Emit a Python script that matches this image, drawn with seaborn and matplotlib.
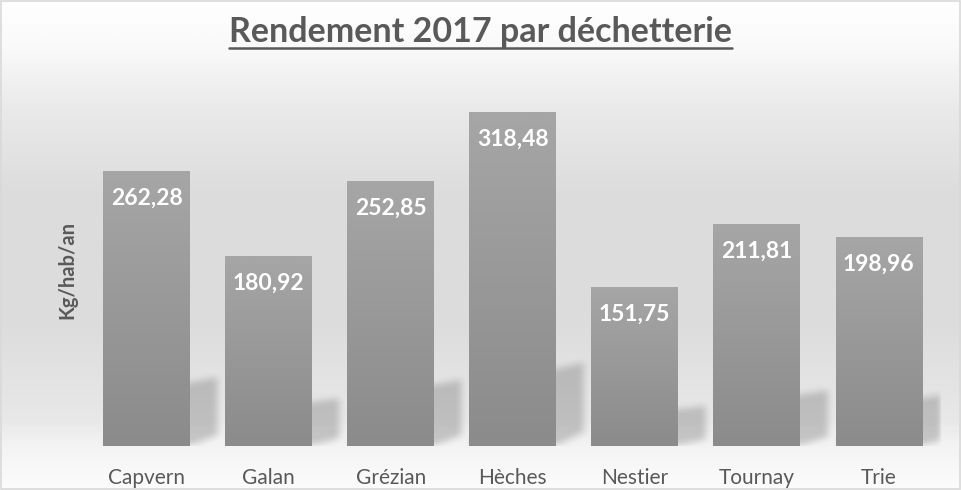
"""Rendement 2017 par déchetterie - bar chart with gradient bars."""

import numpy as np
import pandas as pd
import matplotlib
matplotlib.use("Agg")
import matplotlib.pyplot as plt
from matplotlib.colors import LinearSegmentedColormap
from matplotlib.patches import Rectangle
from matplotlib.path import Path
from matplotlib.lines import Line2D
import seaborn as sns

# data
sites = ["Capvern", "Galan", "Grézian", "Hèches", "Nestier", "Tournay", "Trie"]
rendement = [262.28, 180.92, 252.85, 318.48, 151.75, 211.81, 198.96]
title = "Rendement 2017 par déchetterie"
ylabel = "Kg/hab/an"

TEXT = "#595959"
YMAX = 350

sns.set_theme(style="white")
plt.rcParams["font.family"] = ["Lato", "DejaVu Sans"]

df = pd.DataFrame({"site": sites, "val": rendement})

fig = plt.figure(figsize=(9.61, 4.9), dpi=100)

# background: white top -> grey middle -> light floor at the bottom
bg_cmap = LinearSegmentedColormap.from_list(
    "bg",
    [(0.0, "#ffffff"), (0.1, "#f9f9f9"), (0.22, "#eaeaea"), (0.4, "#dcdcdc"),
     (0.67, "#dddddd"), (0.86, "#e8e8e8"), (0.91, "#f3f3f3"), (1.0, "#fcfcfc")],
)
bg = fig.add_axes([0, 0, 1, 1], zorder=0)
bg.imshow(np.linspace(0, 1, 490).reshape(-1, 1), cmap=bg_cmap, aspect="auto",
          extent=[0, 1, 0, 1], vmin=0, vmax=1)
bg.set_axis_off()
fig.add_artist(Rectangle((0.0015, 0.002), 0.997, 0.996, transform=fig.transFigure,
                         fill=False, edgecolor="#d9d9d9", lw=1.2))

ax = fig.add_axes([0.089, 0.0898, 0.889, 0.749], zorder=1)
ax.patch.set_alpha(0)

sns.barplot(data=df, x="site", y="val", color="#999999", saturation=1,
            width=0.71, linewidth=0, edgecolor="none", ax=ax, zorder=3)

# soft shadows cast behind the bars (mask -> box blur -> overlay)
hw = 0.355
nx, ny = 854, 140
ytop = ny / 1.049
gx = np.linspace(-0.5, len(sites) - 0.5, nx)
gy = np.linspace(0, ytop, ny)
GX, GY = np.meshgrid(gx, gy)
pts = np.column_stack([GX.ravel(), GY.ravel()])
mask = np.zeros(GX.shape)
for i, v in enumerate(rendement):
    dx = 0.22
    shape = Path([(i - hw, 0), (i + hw, 0), (i + hw + dx, 0.04 * v),
                  (i + hw + dx, 0.25 * v), (i - hw + dx, 0.19 * v)])
    mask = np.maximum(mask, shape.contains_points(pts).reshape(GX.shape))


def box_blur(a, k):
    ker = np.ones(k) / k
    a = np.apply_along_axis(lambda r: np.convolve(r, ker, mode="same"), 1, a)
    return np.apply_along_axis(lambda c: np.convolve(c, ker, mode="same"), 0, a)


mask = box_blur(box_blur(mask, 9), 7)
shadow = np.zeros((ny, nx, 4))
shadow[..., 3] = mask * 0.18
ax.imshow(shadow, origin="lower", aspect="auto", zorder=2,
          extent=[gx[0], gx[-1], 0, ytop], interpolation="bilinear")

# vertical gradient inside each bar
bar_cmap = LinearSegmentedColormap.from_list("bar", ["#8b8b8b", "#a6a6a6"])
grad = np.linspace(1, 0, 128).reshape(-1, 1)
for p in list(ax.patches):
    if not isinstance(p, Rectangle):
        continue
    x0, w, h = p.get_x(), p.get_width(), p.get_height()
    im = ax.imshow(grad, cmap=bar_cmap, aspect="auto", extent=[x0, x0 + w, 0, h],
                   zorder=4, vmin=0, vmax=1)
    im.set_clip_path(p)

for i, v in enumerate(rendement):
    ax.text(i, v - 26, f"{v:.2f}".replace(".", ","), ha="center", va="center",
            color="white", fontsize=16.5, fontweight="bold", zorder=5)

ax.set_xlim(-0.5, len(sites) - 0.5)
ax.set_ylim(0, YMAX)
ax.set_yticks([])
ax.set_xlabel("")
ax.set_ylabel("")
ax.tick_params(axis="x", length=0, pad=16, labelsize=15, labelcolor=TEXT)
sns.despine(ax=ax, left=True, bottom=True)

fig.text(0.07, 0.449, ylabel, rotation=90, ha="center", va="center",
         fontsize=14.5, fontweight="bold", color=TEXT)

t = fig.text(0.5, 1 - 32 / 490, title, ha="center", va="center",
             fontsize=24.5, fontweight="bold", color=TEXT)
fig.canvas.draw()
bb = t.get_window_extent().transformed(fig.transFigure.inverted())
fig.add_artist(Line2D([bb.x0, bb.x1], [1 - 48 / 490] * 2, transform=fig.transFigure,
                      color=TEXT, lw=1.8))

plt.savefig("out.png", dpi=100)
plt.close()
